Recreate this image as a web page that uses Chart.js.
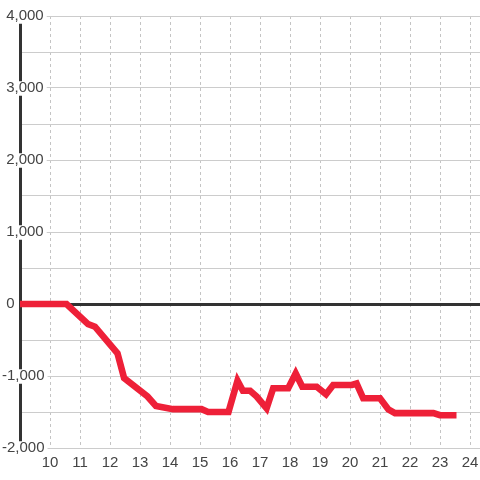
<!DOCTYPE html>
<html>
<head>
<meta charset="utf-8">
<script src="https://cdn.jsdelivr.net/npm/chart.js@4"></script>
<style>
  html, body { margin: 0; padding: 0; background: #fff; }
</style>
</head>
<body>
<canvas id="chart" width="480" height="480"></canvas>
<script>
// hour of day (x) and running value (y)
const hours = [9, 10.55, 11.27, 11.5, 12.25, 12.47, 13.25, 13.53, 14.1, 15.05, 15.27, 15.95,
  16.25, 16.43, 16.67, 16.89, 17.22, 17.44, 17.94, 18.19, 18.41, 18.89, 19.2, 19.44,
  20.06, 20.22, 20.44, 21.0, 21.28, 21.5, 22.78, 23.0, 23.55];
const values = [0, 0, -280, -315, -685, -1030, -1285, -1415, -1460, -1460, -1500, -1500,
  -1065, -1205, -1205, -1285, -1450, -1170, -1170, -965, -1150, -1150, -1255, -1125,
  -1125, -1105, -1310, -1310, -1465, -1515, -1515, -1545, -1545];

const yMin = -2000, yMax = 4000, yStep = 500;
const xMin = 9, xMax = 24 + 1 / 3;

const textColor = '#444';
const gridColor = '#cccccc';
const axisColor = '#333333';

const points = hours.map((h, i) => ({ x: h, y: values[i] }));

const config = {
  type: 'line',
  data: {
    datasets: [{
      data: points,
      borderColor: '#ee2038',
      borderWidth: 6.6,
      pointRadius: 0,
      tension: 0,
      fill: false
    }]
  },
  options: {
    responsive: false,
    animation: false,
    layout: { padding: { top: 16, right: 0, bottom: 0, left: 0 } },
    plugins: {
      legend: { display: false },
      tooltip: { enabled: false }
    },
    scales: {
      x: {
        type: 'linear',
        min: xMin,
        max: xMax,
        grid: {
          drawTicks: false,
          color: ctx => ctx.tick && ctx.tick.value === xMin ? 'rgba(0,0,0,0)' : '#c4c4c4',
          lineWidth: 1
        },
        border: { display: false, dash: [3, 3] },
        ticks: {
          stepSize: 1,
          includeBounds: false,
          autoSkip: false,
          maxRotation: 0,
          padding: 6,
          color: textColor,
          font: { family: '"Liberation Sans", Arial, sans-serif', size: 15 },
          callback: v => (v === xMin ? '' : String(v))
        },
        afterFit: s => { s.height = 32; s.paddingLeft = 0; s.paddingRight = 0; }
      },
      y: {
        type: 'linear',
        min: yMin,
        max: yMax,
        grid: {
          drawTicks: false,
          color: ctx => ctx.tick && ctx.tick.value === 0 ? axisColor : gridColor,
          lineWidth: ctx => ctx.tick && ctx.tick.value === 0 ? 3 : 1
        },
        border: { display: true, color: axisColor, width: 3 },
        ticks: {
          stepSize: yStep,
          mirror: true,
          padding: -18,
          color: textColor,
          font: { family: '"Liberation Sans", Arial, sans-serif', size: 15, lineHeight: 0.9 },
          showLabelBackdrop: true,
          backdropColor: ctx => ctx.tick && ctx.tick.value % 1000 === 0 ? '#ffffff' : 'rgba(0,0,0,0)',
          backdropPadding: { top: 0, bottom: 1, left: 2, right: 3 },
          callback: v => {
            if (v % 1000 !== 0) return '';
            const s = v.toLocaleString('en-US');
            return v < 0 ? s : ' ' + s;
          }
        },
        afterFit: s => { s.width = 20; }
      }
    }
  }
};

new Chart(document.getElementById('chart').getContext('2d'), config);
</script>
</body>
</html>
